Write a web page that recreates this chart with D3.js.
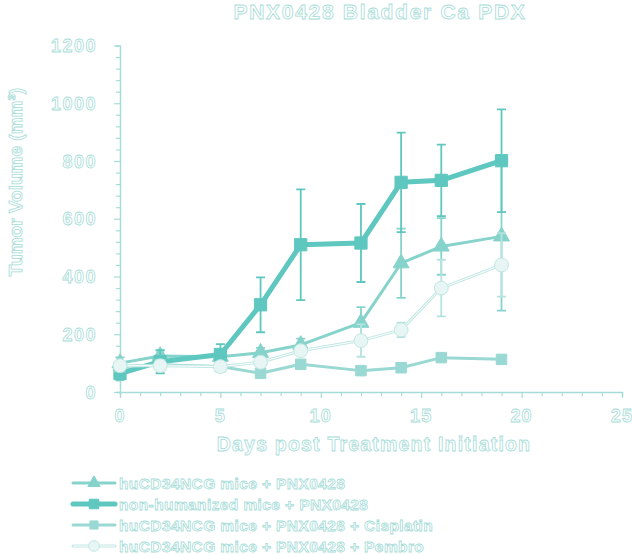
<!DOCTYPE html>
<html><head><meta charset="utf-8">
<script src="https://cdn.jsdelivr.net/npm/d3@7/dist/d3.min.js"></script>
<style>body{margin:0;background:#fff}svg{display:block}</style>
</head><body>
<script>
const days = [0, 2, 5, 7, 9, 12, 14, 16, 19];
const seriesNames = [
  "huCD34NCG mice + PNX0428",
  "non-humanized mice + PNX0428",
  "huCD34NCG mice + PNX0428 + Cisplatin",
  "huCD34NCG mice + PNX0428 + Pembro"
];
const huMean = [100, 125, 122, 136, 163, 240, 446, 504, 539];
const huErr  = [20, 18, 15, 17, 22, 54, 120, 98, 257];
const nonHuMean = [64, 105, 130, 302, 510, 516, 726, 733, 801];
const nonHuErr  = [22, 40, 36, 95, 192, 135, 172, 124, 178];
const cisMean = [88, 94, 88, 65, 96, 74, 84, 119, 113];
const cisErr  = [6, 6, 6, 6, 8, 6, 6, 8, 8];
const pemMean = [91, 91, 88, 103, 143, 178, 215, 360, 440];
const pemErr  = [10, 10, 10, 15, 12, 56, 25, 98, 110];
const xTicks = [0, 5, 10, 15, 20, 25];
const yTicks = [0, 200, 400, 600, 800, 1000, 1200];
const title = "PNX0428 Bladder Ca PDX";
const xTitle = "Days post Treatment Initiation";
const yTitle = "Tumor Volume (mm³)";

const W = 632, H = 554;
const txtStroke = "#a6dcd7";
const axisColor = "#a6dcd7";
const svg = d3.select("body").append("svg").attr("width", W).attr("height", H);
const x = d3.scaleLinear().domain([0, 25]).range([120, 622]);
const y = d3.scaleLinear().domain([0, 1200]).range([392, 45.5]);

function outlined(sel){
  return sel.attr("fill", "#fff").attr("stroke", txtStroke).attr("stroke-width", 0.8)
    .attr("font-family", "Liberation Sans, Arial, sans-serif").attr("font-weight", "bold");
}

// axes
const gx = svg.append("g").attr("transform", `translate(0,${y(0)})`);
gx.call(d3.axisBottom(x).tickValues(d3.range(0, 26, 1)).tickSize(4).tickFormat(""));
gx.call(g => g.selectAll(".tick line").attr("y2", d => d % 5 === 0 ? 6 : 4));
const gy = svg.append("g").attr("transform", `translate(${x(0)},0)`);
gy.call(d3.axisLeft(y).tickValues(d3.range(0, 1201, 40)).tickSize(4).tickFormat(""));
gy.call(g => g.selectAll(".tick line").attr("x2", d => d % 200 === 0 ? -6 : -4));
[gx, gy].forEach(g => {
  g.select(".domain").attr("stroke", axisColor).attr("stroke-width", 1.5);
  g.selectAll(".tick line").attr("stroke", axisColor).attr("stroke-width", 1.2);
});
// tick labels
outlined(svg.append("g").selectAll("text").data(xTicks).join("text")
  .attr("x", d => x(d)).attr("y", 422).attr("text-anchor", "middle")
  .attr("font-size", 18).attr("letter-spacing", 1.2).text(d => d));
outlined(svg.append("g").selectAll("text").data(yTicks).join("text")
  .attr("x", 97).attr("y", d => y(d) + 6.5).attr("text-anchor", "end")
  .attr("font-size", 18).attr("letter-spacing", 1.5).text(d => d));

// titles
outlined(svg.append("text").attr("x", 380).attr("y", 19).attr("text-anchor", "middle")
  .attr("font-size", 21).attr("letter-spacing", 1.7).text(title));
outlined(svg.append("text").attr("x", 374).attr("y", 451).attr("text-anchor", "middle")
  .attr("font-size", 19.5).attr("letter-spacing", 1.2).text(xTitle));
outlined(svg.append("text").attr("transform", "translate(22,182) rotate(-90)").attr("text-anchor", "middle")
  .attr("font-size", 19).text(yTitle));

const series = [
  {mean: huMean, err: huErr, color: "#86d3cc", lw: 3, sym: d3.symbolTriangle, size: 110, fill: "#86d3cc", stroke: "#86d3cc"},
  {mean: nonHuMean, err: nonHuErr, color: "#5ec7bf", lw: 5, sym: d3.symbolSquare, size: 150, fill: "#5ec7bf", stroke: "#5ec7bf"},
  {mean: cisMean, err: cisErr, color: "#9ad9d3", lw: 3, sym: d3.symbolSquare, size: 110, fill: "#9ad9d3", stroke: "#9ad9d3"},
  {mean: pemMean, err: pemErr, color: "#c2e8e4", lw: 3, sym: d3.symbolCircle, size: 150, fill: "#e7f6f4", stroke: "#c2e8e4", inner: true}
];
const errColors = ["#86d3cc", "#5ec7bf", "#9ad9d3", "#b5e3df"];

const line = d3.line().x(d => x(d[0])).y(d => y(d[1]));
series.forEach((s, i) => {
  const pts = days.map((d, j) => [d, s.mean[j], s.err[j]]);
  const g = svg.append("g");
  g.selectAll("path.err").data(pts).join("path").attr("class", "err")
    .attr("d", p => `M${x(p[0])},${y(p[1]-p[2])}V${y(p[1]+p[2])}M${x(p[0])-4.5},${y(p[1]+p[2])}h9M${x(p[0])-4.5},${y(p[1]-p[2])}h9`)
    .attr("stroke", errColors[i]).attr("stroke-width", 1.8).attr("fill", "none");
  g.append("path").datum(pts).attr("d", line).attr("fill", "none")
    .attr("stroke", s.color).attr("stroke-width", s.lw).attr("stroke-linejoin", "round");
  if (s.inner) g.append("path").datum(pts).attr("d", line).attr("fill", "none")
    .attr("stroke", "#fff").attr("stroke-width", 1);
  g.selectAll("path.mk").data(pts).join("path").attr("class", "mk")
    .attr("transform", p => `translate(${x(p[0])},${y(p[1])})`)
    .attr("d", d3.symbol().type(s.sym).size(s.size))
    .attr("fill", s.fill).attr("stroke", s.stroke).attr("stroke-width", 1);
});

// legend
const lg = svg.append("g");
series.forEach((s, i) => {
  const yy = 483 + i * 21;
  lg.append("line").attr("x1", 73).attr("x2", 115).attr("y1", yy).attr("y2", yy)
    .attr("stroke", s.color).attr("stroke-width", s.lw).attr("stroke-linecap", "round");
  if (s.inner) lg.append("line").attr("x1", 73).attr("x2", 115).attr("y1", yy).attr("y2", yy)
    .attr("stroke", "#fff").attr("stroke-width", 1);
  lg.append("path").attr("transform", `translate(94,${yy})`)
    .attr("d", d3.symbol().type(s.sym).size(s.size * 0.6))
    .attr("fill", s.fill).attr("stroke", s.stroke);
  outlined(lg.append("text").attr("x", 119).attr("y", yy + 5.5).attr("font-size", 15.5)
    .attr("letter-spacing", 0.4).text(seriesNames[i]));
});
</script>
</body></html>
